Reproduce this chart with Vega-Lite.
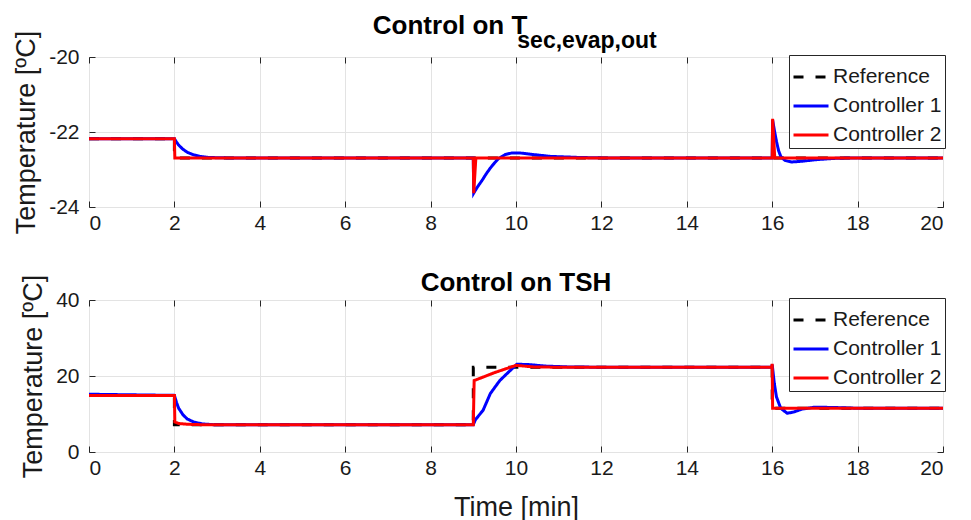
{
  "$schema": "https://vega.github.io/schema/vega-lite/v6.json",
  "autosize": {"type": "pad"},
  "padding": {"left": 12, "top": 12, "right": 20, "bottom": 0},
  "background": "white",
  "config": {
    "font": "Liberation Sans",
    "view": {"stroke": "#262626", "strokeWidth": 1},
    "axis": {
      "domain": false,
      "grid": true,
      "gridColor": "#e3e3e3",
      "gridWidth": 1,
      "tickColor": "#262626",
      "tickSize": -6,
      "labelFont": "Liberation Sans",
      "labelFontSize": 21,
      "labelColor": "#1a1a1a",
      "labelExpr": "toString(datum.value)",
      "titleFont": "Liberation Sans",
      "titleFontSize": 27,
      "titleFontWeight": "normal",
      "titleColor": "#1a1a1a"
    },
    "legend": {
      "orient": "top-right",
      "offset": -2,
      "fillColor": "white",
      "strokeColor": "#262626",
      "padding": 3,
      "labelFontSize": 21,
      "labelFont": "Liberation Sans",
      "labelColor": "#1a1a1a",
      "labelOffset": 3,
      "symbolType": "stroke",
      "symbolSize": 1225,
      "symbolStrokeWidth": 3,
      "rowPadding": -8,
      "title": null
    }
  },
  "title": {
    "text": "Control on T",
    "fontSize": 26,
    "fontWeight": "bold",
    "font": "Liberation Sans",
    "anchor": "middle",
    "dx": -29,
    "offset": -9,
    "color": "black"
  },
  "datasets": {
    "top": [
      {"t": 0, "v": -22.18, "s": "Reference"},
      {"t": 2, "v": -22.18, "s": "Reference"},
      {"t": 2, "v": -22.69, "s": "Reference"},
      {"t": 20, "v": -22.69, "s": "Reference"},

      {"t": 0, "v": -22.18, "s": "Controller 1"},
      {"t": 2, "v": -22.18, "s": "Controller 1"},
      {"t": 2.05, "v": -22.27, "s": "Controller 1"},
      {"t": 2.1, "v": -22.35, "s": "Controller 1"},
      {"t": 2.2, "v": -22.46, "s": "Controller 1"},
      {"t": 2.3, "v": -22.54, "s": "Controller 1"},
      {"t": 2.45, "v": -22.61, "s": "Controller 1"},
      {"t": 2.6, "v": -22.65, "s": "Controller 1"},
      {"t": 2.8, "v": -22.68, "s": "Controller 1"},
      {"t": 3.2, "v": -22.69, "s": "Controller 1"},
      {"t": 9, "v": -22.69, "s": "Controller 1"},
      {"t": 9.01, "v": -23.63, "s": "Controller 1"},
      {"t": 9.1, "v": -23.46, "s": "Controller 1"},
      {"t": 9.2, "v": -23.3, "s": "Controller 1"},
      {"t": 9.3, "v": -23.12, "s": "Controller 1"},
      {"t": 9.4, "v": -22.96, "s": "Controller 1"},
      {"t": 9.5, "v": -22.82, "s": "Controller 1"},
      {"t": 9.6, "v": -22.7, "s": "Controller 1"},
      {"t": 9.75, "v": -22.6, "s": "Controller 1"},
      {"t": 9.9, "v": -22.56, "s": "Controller 1"},
      {"t": 10.1, "v": -22.56, "s": "Controller 1"},
      {"t": 10.4, "v": -22.6, "s": "Controller 1"},
      {"t": 10.8, "v": -22.65, "s": "Controller 1"},
      {"t": 11.5, "v": -22.68, "s": "Controller 1"},
      {"t": 12, "v": -22.69, "s": "Controller 1"},
      {"t": 16, "v": -22.69, "s": "Controller 1"},
      {"t": 16.01, "v": -21.68, "s": "Controller 1"},
      {"t": 16.05, "v": -21.95, "s": "Controller 1"},
      {"t": 16.1, "v": -22.25, "s": "Controller 1"},
      {"t": 16.15, "v": -22.5, "s": "Controller 1"},
      {"t": 16.2, "v": -22.65, "s": "Controller 1"},
      {"t": 16.3, "v": -22.76, "s": "Controller 1"},
      {"t": 16.45, "v": -22.8, "s": "Controller 1"},
      {"t": 16.7, "v": -22.78, "s": "Controller 1"},
      {"t": 17, "v": -22.74, "s": "Controller 1"},
      {"t": 17.5, "v": -22.7, "s": "Controller 1"},
      {"t": 18, "v": -22.69, "s": "Controller 1"},
      {"t": 20, "v": -22.69, "s": "Controller 1"},

      {"t": 0, "v": -22.18, "s": "Controller 2"},
      {"t": 2, "v": -22.18, "s": "Controller 2"},
      {"t": 2.01, "v": -22.69, "s": "Controller 2"},
      {"t": 9, "v": -22.69, "s": "Controller 2"},
      {"t": 9.01, "v": -23.63, "s": "Controller 2"},
      {"t": 9.06, "v": -22.69, "s": "Controller 2"},
      {"t": 16, "v": -22.69, "s": "Controller 2"},
      {"t": 16.01, "v": -21.65, "s": "Controller 2"},
      {"t": 16.06, "v": -22.69, "s": "Controller 2"},
      {"t": 20, "v": -22.69, "s": "Controller 2"}
    ],
    "bottom": [
      {"t": 0, "v": 14.9, "s": "Reference"},
      {"t": 2, "v": 14.9, "s": "Reference"},
      {"t": 2, "v": 7.2, "s": "Reference"},
      {"t": 9, "v": 7.2, "s": "Reference"},
      {"t": 9, "v": 22.3, "s": "Reference"},
      {"t": 16, "v": 22.3, "s": "Reference"},
      {"t": 16, "v": 11.5, "s": "Reference"},
      {"t": 20, "v": 11.5, "s": "Reference"},

      {"t": 0, "v": 15.2, "s": "Controller 1"},
      {"t": 2, "v": 14.9, "s": "Controller 1"},
      {"t": 2.05, "v": 13.0, "s": "Controller 1"},
      {"t": 2.1, "v": 11.5, "s": "Controller 1"},
      {"t": 2.2, "v": 9.8, "s": "Controller 1"},
      {"t": 2.3, "v": 8.7, "s": "Controller 1"},
      {"t": 2.45, "v": 7.9, "s": "Controller 1"},
      {"t": 2.65, "v": 7.4, "s": "Controller 1"},
      {"t": 2.9, "v": 7.2, "s": "Controller 1"},
      {"t": 9, "v": 7.2, "s": "Controller 1"},
      {"t": 9.05, "v": 8.5, "s": "Controller 1"},
      {"t": 9.23, "v": 11.0, "s": "Controller 1"},
      {"t": 9.4, "v": 15.4, "s": "Controller 1"},
      {"t": 9.62, "v": 18.8, "s": "Controller 1"},
      {"t": 9.86, "v": 21.4, "s": "Controller 1"},
      {"t": 10.02, "v": 23.1, "s": "Controller 1"},
      {"t": 10.3, "v": 23.0, "s": "Controller 1"},
      {"t": 10.7, "v": 22.6, "s": "Controller 1"},
      {"t": 11.2, "v": 22.4, "s": "Controller 1"},
      {"t": 12, "v": 22.3, "s": "Controller 1"},
      {"t": 15.99, "v": 22.3, "s": "Controller 1"},
      {"t": 16.0, "v": 23.0, "s": "Controller 1"},
      {"t": 16.05, "v": 18.0, "s": "Controller 1"},
      {"t": 16.1, "v": 14.5, "s": "Controller 1"},
      {"t": 16.2, "v": 11.5, "s": "Controller 1"},
      {"t": 16.35, "v": 10.2, "s": "Controller 1"},
      {"t": 16.5, "v": 10.5, "s": "Controller 1"},
      {"t": 16.7, "v": 11.3, "s": "Controller 1"},
      {"t": 17.0, "v": 11.8, "s": "Controller 1"},
      {"t": 17.5, "v": 11.7, "s": "Controller 1"},
      {"t": 18, "v": 11.5, "s": "Controller 1"},
      {"t": 20, "v": 11.5, "s": "Controller 1"},

      {"t": 0, "v": 14.9, "s": "Controller 2"},
      {"t": 2, "v": 14.9, "s": "Controller 2"},
      {"t": 2.01, "v": 7.9, "s": "Controller 2"},
      {"t": 2.1, "v": 7.5, "s": "Controller 2"},
      {"t": 2.3, "v": 7.3, "s": "Controller 2"},
      {"t": 2.6, "v": 7.2, "s": "Controller 2"},
      {"t": 9, "v": 7.2, "s": "Controller 2"},
      {"t": 9.02, "v": 18.8, "s": "Controller 2"},
      {"t": 9.5, "v": 20.9, "s": "Controller 2"},
      {"t": 10.0, "v": 22.8, "s": "Controller 2"},
      {"t": 10.4, "v": 22.4, "s": "Controller 2"},
      {"t": 11, "v": 22.3, "s": "Controller 2"},
      {"t": 15.99, "v": 22.3, "s": "Controller 2"},
      {"t": 16.0, "v": 23.2, "s": "Controller 2"},
      {"t": 16.01, "v": 11.5, "s": "Controller 2"},
      {"t": 20, "v": 11.5, "s": "Controller 2"}
    ]
  },
  "vconcat": [
    {
      "width": 854,
      "height": 150,
      "title": {
        "text": "sec,evap,out",
        "fontSize": 23,
        "fontWeight": "bold",
        "font": "Liberation Sans",
        "anchor": "middle",
        "frame": "group",
        "dx": 71,
        "offset": -23,
        "color": "black"
      },
      "data": {"name": "top"},
      "encoding": {
        "color": {"field": "s", "type": "nominal",
                  "scale": {"domain": ["Reference", "Controller 1", "Controller 2"], "range": ["#000000", "#0000ff", "#ff0000"]}},
        "strokeDash": {"field": "s", "type": "nominal",
                  "scale": {"domain": ["Reference", "Controller 1", "Controller 2"], "range": [[10, 12], [1, 0], [1, 0]]}}
      },
      "layer": [
        {"transform": [{"filter": "datum.s === 'Reference'"}], "mark": {"type": "line", "strokeWidth": 3, "clip": true},
         "encoding": {
           "x": {"field": "t", "type": "quantitative", "scale": {"domain": [0, 20], "nice": false},
                 "axis": {"values": [0,2,4,6,8,10,12,14,16,18,20], "title": null, "labelPadding": 11}},
           "y": {"field": "v", "type": "quantitative", "scale": {"domain": [-24, -20], "nice": false, "zero": false},
                 "axis": {"values": [-24, -22, -20], "title": "Temperature [ºC]", "labelPadding": 16, "titlePadding": 8}}
         }},
        {"transform": [{"filter": "datum.s === 'Controller 1'"}], "mark": {"type": "line", "strokeWidth": 3, "clip": true},
         "encoding": {
           "x": {"field": "t", "type": "quantitative", "scale": {"domain": [0, 20], "nice": false},
                 "axis": {"orient": "top", "values": [0,2,4,6,8,10,12,14,16,18,20], "title": null, "labels": false, "grid": false}},
           "y": {"field": "v", "type": "quantitative", "scale": {"domain": [-24, -20], "nice": false, "zero": false},
                 "axis": {"orient": "right", "values": [-24, -22, -20], "title": null, "labels": false, "grid": false}}
         }},
        {"transform": [{"filter": "datum.s === 'Controller 2'"}], "mark": {"type": "line", "strokeWidth": 3, "clip": true},
         "encoding": {
           "x": {"field": "t", "type": "quantitative", "scale": {"domain": [0, 20], "nice": false}, "axis": null},
           "y": {"field": "v", "type": "quantitative", "scale": {"domain": [-24, -20], "nice": false, "zero": false}, "axis": null}
         }}
      ],
      "resolve": {"axis": {"x": "independent", "y": "independent"}}
    },
    {
      "width": 854,
      "height": 152,
      "title": {
        "text": "Control on TSH",
        "fontSize": 26,
        "fontWeight": "bold",
        "font": "Liberation Sans",
        "anchor": "middle",
        "frame": "group",
        "offset": -22,
        "color": "black"
      },
      "data": {"name": "bottom"},
      "encoding": {
        "color": {"field": "s", "type": "nominal",
                  "scale": {"domain": ["Reference", "Controller 1", "Controller 2"], "range": ["#000000", "#0000ff", "#ff0000"]}},
        "strokeDash": {"field": "s", "type": "nominal",
                  "scale": {"domain": ["Reference", "Controller 1", "Controller 2"], "range": [[10, 12], [1, 0], [1, 0]]}}
      },
      "layer": [
        {"transform": [{"filter": "datum.s === 'Reference'"}], "mark": {"type": "line", "strokeWidth": 3, "clip": true},
         "encoding": {
           "x": {"field": "t", "type": "quantitative", "scale": {"domain": [0, 20], "nice": false},
                 "axis": {"values": [0,2,4,6,8,10,12,14,16,18,20], "title": "Time [min]", "labelPadding": 11, "titlePadding": 16}},
           "y": {"field": "v", "type": "quantitative", "scale": {"domain": [0, 40], "nice": false, "zero": false},
                 "axis": {"values": [0, 20, 40], "title": "Temperature [ºC]", "labelPadding": 16, "titlePadding": 8}}
         }},
        {"transform": [{"filter": "datum.s === 'Controller 1'"}], "mark": {"type": "line", "strokeWidth": 3, "clip": true},
         "encoding": {
           "x": {"field": "t", "type": "quantitative", "scale": {"domain": [0, 20], "nice": false},
                 "axis": {"orient": "top", "values": [0,2,4,6,8,10,12,14,16,18,20], "title": null, "labels": false, "grid": false}},
           "y": {"field": "v", "type": "quantitative", "scale": {"domain": [0, 40], "nice": false, "zero": false},
                 "axis": {"orient": "right", "values": [0, 20, 40], "title": null, "labels": false, "grid": false}}
         }},
        {"transform": [{"filter": "datum.s === 'Controller 2'"}], "mark": {"type": "line", "strokeWidth": 3, "clip": true},
         "encoding": {
           "x": {"field": "t", "type": "quantitative", "scale": {"domain": [0, 20], "nice": false}, "axis": null},
           "y": {"field": "v", "type": "quantitative", "scale": {"domain": [0, 40], "nice": false, "zero": false}, "axis": null}
         }}
      ],
      "resolve": {"axis": {"x": "independent", "y": "independent"}}
    }
  ],
  "bounds": "flush",
  "spacing": 93,
  "resolve": {"scale": {"color": "independent", "strokeDash": "independent", "y": "independent"},
              "legend": {"color": "independent", "strokeDash": "independent"}}
}
